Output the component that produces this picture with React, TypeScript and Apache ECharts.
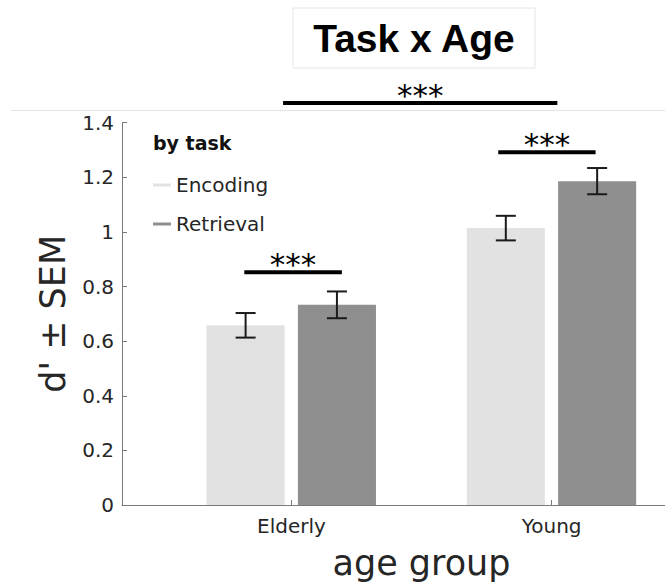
import React, { useEffect, useRef } from "react";
import * as echarts from "echarts";

// ---- data ----
const categories = ["Elderly", "Young"];
const encodingMeans = [0.658, 1.014];
const encodingSem = [0.045, 0.045];
const retrievalMeans = [0.733, 1.186];
const retrievalSem = [0.049, 0.048];
const yTicks = [0, 0.2, 0.4, 0.6, 0.8, 1, 1.2, 1.4];

// significance comparisons (x from, x to, y level, label)
const sigFrom = [0.819, 1.795, 0.968];
const sigTo = [1.194, 2.169, 2.022];
const sigLevel = [0.852, 1.292, 1.472];
const sigLabels = ["***", "***", "***"];

const FONT = "DejaVu Sans";
const ENC_COLOR = "#e2e2e2";
const RET_COLOR = "#8f8f8f";
const AXIS_COLOR = "#7a7a7a";
const TEXT_COLOR = "#262626";
const BAR_W = 0.3;
const ENC_OFFSET = -0.176;
const RET_OFFSET = 0.175;

function barRenderer(offset: number, color: string) {
  return (params: any, api: any) => {
    const x = api.value(0) + offset;
    const v = api.value(1);
    const sem = api.value(2);
    const base = api.coord([x, 0]);
    const top = api.coord([x, v]);
    const hi = api.coord([x, v + sem]);
    const lo = api.coord([x, v - sem]);
    const w = api.size([BAR_W, 0])[0];
    const cap = 10;
    const errStyle = { stroke: "#1a1a1a", lineWidth: 2 };
    return {
      type: "group",
      children: [
        {
          type: "rect",
          shape: { x: base[0] - w / 2, y: top[1], width: w, height: base[1] - top[1] },
          style: { fill: color },
        },
        { type: "line", shape: { x1: top[0], y1: hi[1], x2: top[0], y2: lo[1] }, style: errStyle },
        { type: "line", shape: { x1: top[0] - cap, y1: hi[1], x2: top[0] + cap, y2: hi[1] }, style: errStyle },
        { type: "line", shape: { x1: top[0] - cap, y1: lo[1], x2: top[0] + cap, y2: lo[1] }, style: errStyle },
      ],
    };
  };
}

export default function App() {
  const ref = useRef<HTMLDivElement>(null);
  useEffect(() => {
    document.body.style.margin = "0";
    if (!ref.current) return;
    const chart = echarts.init(ref.current, undefined, { renderer: "svg" });
    const encData = categories.map((c, i) => [i + 1, encodingMeans[i], encodingSem[i]]);
    const retData = categories.map((c, i) => [i + 1, retrievalMeans[i], retrievalSem[i]]);
    const sigData = sigFrom.map((f, i) => [f, sigTo[i], sigLevel[i], i]);

    chart.setOption({
      animation: false,
      textStyle: { fontFamily: FONT },
      grid: { left: 122, width: 599, top: 122.7, height: 382.3, outerBoundsMode: "none", containLabel: false },
      xAxis: {
        type: "value",
        min: 0.349,
        max: 2.651,
        axisLine: { show: true, lineStyle: { color: AXIS_COLOR, width: 1 } },
        axisTick: { show: true, inside: true, length: 5, customValues: [1, 2], lineStyle: { color: AXIS_COLOR } },
        axisLabel: {
          customValues: [1, 2],
          formatter: (v: number) => categories[Math.round(v) - 1] ?? "",
          fontSize: 20,
          color: TEXT_COLOR,
          fontFamily: FONT,
          margin: 11,
        },
        splitLine: { show: false },
        name: "age group",
        nameLocation: "middle",
        nameGap: 40,
        nameTextStyle: { fontSize: 35, color: TEXT_COLOR, fontFamily: FONT },
      },
      yAxis: {
        type: "value",
        min: yTicks[0],
        max: yTicks[yTicks.length - 1],
        interval: 0.2,
        axisLine: { show: true, lineStyle: { color: AXIS_COLOR, width: 1 } },
        axisTick: { show: true, inside: true, length: 5, lineStyle: { color: AXIS_COLOR } },
        axisLabel: { fontSize: 20, color: TEXT_COLOR, fontFamily: FONT, margin: 8 },
        splitLine: { show: false },
        name: "d' ± SEM",
        nameLocation: "middle",
        nameGap: 52,
        nameTextStyle: { fontSize: 35, color: TEXT_COLOR, fontFamily: FONT },
      },
      legend: {
        data: ["Encoding", "Retrieval"],
        orient: "vertical",
        left: 153,
        top: 175,
        padding: 0,
        itemWidth: 18,
        itemHeight: 3,
        icon: "rect",
        itemGap: 19,
        textStyle: { fontSize: 20, color: TEXT_COLOR, fontFamily: FONT },
      },
      graphic: [
        {
          type: "line",
          shape: { x1: 11, y1: 110.5, x2: 665, y2: 110.5 },
          style: { stroke: "#e4e4e4", lineWidth: 1 },
          silent: true,
        },
        {
          type: "rect",
          shape: { x: 293, y: 8, width: 242, height: 60 },
          style: { fill: "#ffffff", stroke: "#e6e6e6", lineWidth: 1 },
          silent: true,
        },
        {
          type: "text",
          x: 414,
          y: 38.5,
          style: {
            text: "Task x Age",
            fontFamily: "Liberation Sans",
            fontWeight: "bold",
            fontSize: 39,
            fill: "#000",
            align: "center",
            verticalAlign: "middle",
          },
          silent: true,
        },
        {
          type: "text",
          x: 153,
          y: 143,
          style: {
            text: "by task",
            fontFamily: FONT,
            fontWeight: "bold",
            fontSize: 19,
            fill: "#111",
            align: "left",
            verticalAlign: "middle",
          },
          silent: true,
        },
      ],
      series: [
        {
          name: "Encoding",
          type: "custom",
          data: encData,
          itemStyle: { color: ENC_COLOR },
          renderItem: barRenderer(ENC_OFFSET, ENC_COLOR),
          silent: true,
        },
        {
          name: "Retrieval",
          type: "custom",
          data: retData,
          itemStyle: { color: RET_COLOR },
          renderItem: barRenderer(RET_OFFSET, RET_COLOR),
          silent: true,
        },
        {
          name: "sig",
          type: "custom",
          data: sigData,
          clip: false,
          silent: true,
          renderItem: (params: any, api: any) => {
            const p1 = api.coord([api.value(0), api.value(2)]);
            const p2 = api.coord([api.value(1), api.value(2)]);
            const idx = api.value(3);
            return {
              type: "group",
              children: [
                {
                  type: "line",
                  shape: { x1: p1[0], y1: p1[1], x2: p2[0], y2: p2[1] },
                  style: { stroke: "#000", lineWidth: 4 },
                },
                {
                  type: "text",
                  x: (p1[0] + p2[0]) / 2,
                  y: p1[1] - 8,
                  style: {
                    text: sigLabels[idx],
                    fontFamily: FONT,
                    fontSize: 31,
                    fill: "#000",
                    align: "center",
                    verticalAlign: "middle",
                  },
                },
              ],
            };
          },
        },
      ],
    });
    return () => chart.dispose();
  }, []);
  return <div ref={ref} style={{ width: 665, height: 585 }} />;
}
